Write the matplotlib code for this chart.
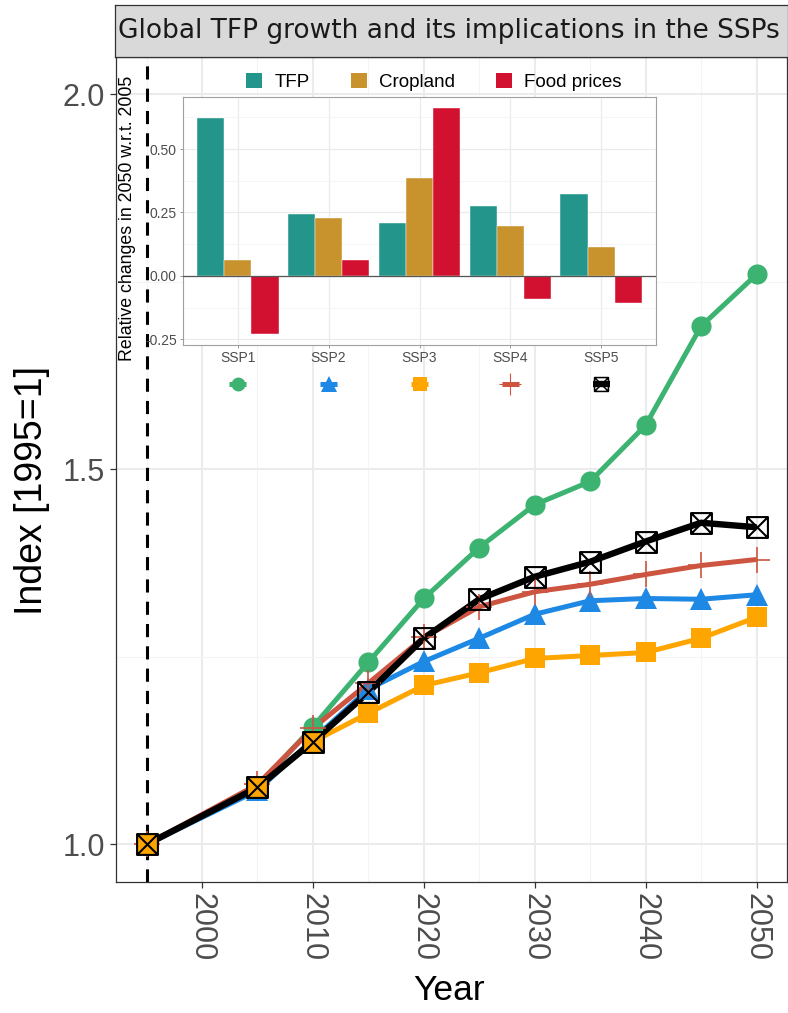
import matplotlib
matplotlib.use('Agg')
import matplotlib.pyplot as plt
from matplotlib.path import Path
from matplotlib.patches import Patch
from matplotlib.lines import Line2D
import matplotlib.transforms as mtransforms
from matplotlib.ticker import FixedLocator

# ---------------- data ----------------
years = [1995, 2005, 2010, 2015, 2020, 2025, 2030, 2035, 2040, 2045, 2050]
ssp1 = [1.0, 1.077, 1.157, 1.243, 1.328, 1.396, 1.453, 1.484, 1.559, 1.691, 1.760]
ssp2 = [1.0, 1.072, 1.140, 1.207, 1.244, 1.275, 1.307, 1.325, 1.328, 1.327, 1.333]
ssp3 = [1.0, 1.076, 1.137, 1.175, 1.212, 1.229, 1.248, 1.252, 1.256, 1.275, 1.303]
ssp4 = [1.0, 1.080, 1.155, 1.215, 1.276, 1.317, 1.337, 1.347, 1.360, 1.372, 1.380]
ssp5 = [1.0, 1.076, 1.137, 1.203, 1.275, 1.327, 1.357, 1.377, 1.404, 1.429, 1.423]

scenarios = ['SSP1', 'SSP2', 'SSP3', 'SSP4', 'SSP5']
tfp = [0.623, 0.244, 0.210, 0.276, 0.323]
cropland = [0.063, 0.228, 0.386, 0.197, 0.113]
food_prices = [-0.228, 0.061, 0.660, -0.089, -0.107]
bar_series = ['TFP', 'Cropland', 'Food prices']

x_ticks = [2000, 2010, 2020, 2030, 2040, 2050]
y_ticks = [1.0, 1.5, 2.0]
inset_ticks = [-0.25, 0.0, 0.25, 0.50]

title = 'Global TFP growth and its implications in the SSPs'

# ---------------- style ----------------
W, H = 788, 1013
NARROW = ['Liberation Sans Narrow', 'Liberation Sans', 'DejaVu Sans']
SANS = ['Liberation Sans', 'DejaVu Sans']
plt.rcParams['font.family'] = SANS

c_ssp = ['#3CB371', '#1E88E5', '#FFA500', '#CD5440', '#000000']
c_bar = ['#23958A', '#C8922D', '#D2102F']

sqx = Path([(-1, -1), (1, -1), (1, 1), (-1, 1), (-1, -1),
            (-1, -1), (1, 1), (-1, 1), (1, -1)],
           [Path.MOVETO, Path.LINETO, Path.LINETO, Path.LINETO, Path.CLOSEPOLY,
            Path.MOVETO, Path.LINETO, Path.MOVETO, Path.LINETO])

series = [ssp1, ssp2, ssp3, ssp4, ssp5]
mk = [dict(marker='o', ms=14.5, mfc=c_ssp[0], mec=c_ssp[0], mew=0),
      dict(marker='^', ms=16, mfc=c_ssp[1], mec=c_ssp[1], mew=0),
      dict(marker='s', ms=14, mfc=c_ssp[2], mec=c_ssp[2], mew=0),
      dict(marker='+', ms=19, mfc=c_ssp[3], mec=c_ssp[3], mew=1.2),
      dict(marker=sqx, ms=15, mfc='none', mec='black', mew=1.5)]
line_w = [3.6, 3.6, 3.6, 3.6, 4.6]

fig = plt.figure(figsize=(W / 100, H / 100), dpi=100)
fig.patch.set_facecolor('white')

def fx(px):
    return px / W

def fy(py):
    return 1 - py / H

# main panel
pl, pr, pt, pb = 116, 787, 57, 882
ax = fig.add_axes([fx(pl), fy(pb), fx(pr - pl), (pb - pt) / H])
ax.set_xlim(1992.25, 2052.75)
ax.set_ylim(0.95, 2.05)
ax.xaxis.set_major_locator(FixedLocator(x_ticks))
ax.xaxis.set_minor_locator(FixedLocator([1995, 2005, 2015, 2025, 2035, 2045]))
ax.yaxis.set_major_locator(FixedLocator(y_ticks))
ax.yaxis.set_minor_locator(FixedLocator([1.25, 1.75]))
ax.grid(which='major', color='#EBEBEB', lw=1.5, zorder=0)
ax.grid(which='minor', color='#F4F4F4', lw=0.8, zorder=0)
ax.set_axisbelow(True)
for s in ax.spines.values():
    s.set_color('#333333')
    s.set_linewidth(0.9)
ax.tick_params(which='minor', length=0)
ax.tick_params(which='major', length=4, width=0.9, color='#333333',
               labelcolor='#4D4D4D', labelsize=22, pad=4)
ax.set_xticklabels([str(v) for v in x_ticks], rotation=-90, fontsize=22)
ax.set_yticklabels(['%.1f' % v for v in y_ticks])

ax.axvline(1995, color='black', lw=2.2, dashes=(4.3, 3.0), zorder=1)

for s, c, w in zip(series, c_ssp, line_w):
    ax.plot(years, s, color=c, lw=w, zorder=2, solid_capstyle='butt')
for i in [0, 1, 3, 2, 4]:
    ax.plot(years, series[i], ls='none', zorder=3, **mk[i])

ax.set_xlabel('Year', fontsize=25.5, family=NARROW)
ax.set_ylabel('Index [1995=1]', fontsize=27, family=NARROW)
ax.xaxis.set_label_coords((449 - pl) / (pr - pl), -(990 - pb) / (pb - pt))
ax.yaxis.set_label_coords((32 - pl) / (pr - pl), (pb - 490) / (pb - pt))
ax.xaxis.label.set_va('center')
ax.yaxis.label.set_va('center')

# strip
sax = fig.add_axes([fx(115), fy(57), 1 - fx(115), 52 / H])
sax.set_facecolor('#D9D9D9')
sax.set_xticks([])
sax.set_yticks([])
for s in sax.spines.values():
    s.set_color('#333333')
    s.set_linewidth(0.9)
fig.text(fx(449), fy(31), title, ha='center', va='center', fontsize=19,
         color='#1A1A1A', family=['DejaVu Sans'])

# inset
il, ir, it, ib = 183, 656, 97, 345
axi = fig.add_axes([fx(il), fy(ib), fx(ir - il), (ib - it) / H])
axi.set_facecolor('white')
axi.set_xlim(0.4, 5.6)
axi.set_ylim(-0.272, 0.705)
axi.yaxis.set_major_locator(FixedLocator(inset_ticks))
axi.yaxis.set_minor_locator(FixedLocator([-0.125, 0.125, 0.375, 0.625]))
axi.xaxis.set_major_locator(FixedLocator([1, 2, 3, 4, 5]))
axi.grid(which='major', color='#EBEBEB', lw=0.9)
axi.grid(which='minor', axis='y', color='#F4F4F4', lw=0.6)
axi.set_axisbelow(True)
for s in axi.spines.values():
    s.set_color('#A0A0A0')
    s.set_linewidth(0.8)
xs = [1, 2, 3, 4, 5]
bw = 0.3
for k, (vals, col) in enumerate(zip([tfp, cropland, food_prices], c_bar)):
    axi.bar([x + (k - 1) * bw for x in xs], vals, width=bw, color=col,
            edgecolor='white', linewidth=0.3, zorder=2)
axi.axhline(0, color='#555555', lw=0.9, zorder=3)
axi.set_xticklabels(scenarios, fontsize=10, family=NARROW, color='#4D4D4D')
axi.set_yticklabels(['-0.25', '0.00', '0.25', '0.50'], fontsize=10, color='#4D4D4D')
axi.tick_params(which='major', length=2.5, width=0.6, color='#888888', pad=2)
axi.tick_params(which='minor', length=0)
axi.set_ylabel('Relative changes in 2050 w.r.t. 2005', fontsize=12.8, family=NARROW)
axi.yaxis.set_label_coords((128 - il) / (ir - il), (ib - 218) / (ib - it))
axi.yaxis.label.set_va('center')

# bar legend
handles = [Patch(facecolor=c, edgecolor='none') for c in c_bar]
fig.legend(handles, bar_series, ncol=3, loc='center',
           bbox_to_anchor=(fx(434), fy(82)), frameon=False,
           prop={'family': NARROW, 'size': 13.5}, handlelength=0.85,
           handleheight=0.85, handletextpad=0.64, columnspacing=2.2,
           borderpad=0)

# SSP legend keys under the inset labels
trans = mtransforms.blended_transform_factory(axi.transData, axi.transAxes)
yk = -(384 - ib) / (ib - it)
key_ms = [10, 12, 10, 16, 10]
for i in range(5):
    axi.add_line(Line2D([xs[i] - 0.09, xs[i] + 0.09], [yk, yk], transform=trans,
                        color=c_ssp[i], lw=line_w[i], clip_on=False,
                        solid_capstyle='butt'))
    d = dict(mk[i])
    d['ms'] = key_ms[i]
    if i == 4:
        d['mew'] = 1.1
    if i == 3:
        d['mew'] = 0.8
    axi.add_line(Line2D([xs[i]], [yk], transform=trans, ls='none',
                        clip_on=False, **d))

fig.savefig('out.png', dpi=100, facecolor='white')
